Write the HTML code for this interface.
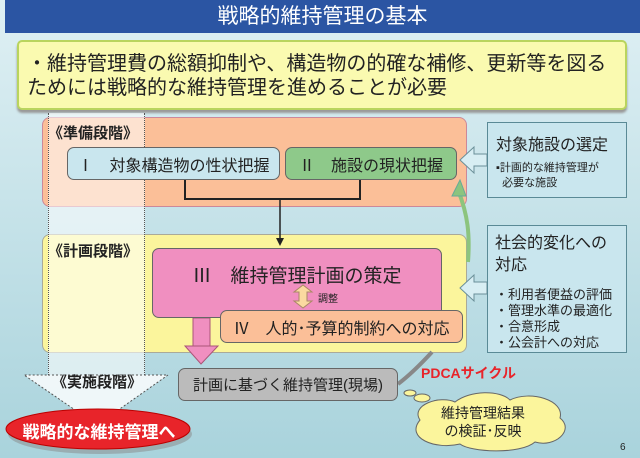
<!DOCTYPE html><html><head><meta charset="utf-8"><style>
body{margin:0}
#c{position:relative;width:640px;height:458px;overflow:hidden;background:linear-gradient(#dff0f4,#a9d3dc);font-family:"Liberation Sans","Noto Sans CJK JP",sans-serif;color:#222}
.a{position:absolute;box-sizing:border-box}
.b{border:1.5px solid #666;border-radius:7px;display:flex;align-items:center;justify-content:center}
</style></head><body><div id="c">
<div class="a" style="left:5px;top:0;width:635px;height:33px;background:#2b55a3;color:#fff;font-size:21px;text-align:center;line-height:34px">戦略的維持管理の基本</div>
<div class="a" style="left:17px;top:40px;width:610px;height:70px;background:#fafab0;border:2px solid #b9d45e;border-radius:5px;box-shadow:0 3px 2px #999;font-size:20px;line-height:24px;padding:10px 0 0 8px">・維持管理費の総額抑制や、構造物の的確な補修、更新等を図る<br>ためには戦略的な維持管理を進めることが必要</div>
<div class="a" style="left:42px;top:117px;width:425px;height:90px;background:#fbbf98;border:1px solid #c89;border-radius:8px"></div>
<div class="a" style="left:42px;top:234px;width:425px;height:119px;background:#fbf59c;border:1px solid #aa9;border-radius:8px"></div>
<div class="a" style="left:48px;top:113px;width:97px;height:262px;background:rgba(255,255,255,.55);border-left:1px dotted #555;border-right:1px dotted #555"></div>
<svg class="a" style="left:0;top:0" width="640" height="458">
<polygon points="48,375 145,375 145,375 168,375 97,425 24,375" fill="rgba(255,255,255,.8)" stroke="#555" stroke-dasharray="2,2"/>
<polyline points="185,180 185,199 360,199 360,180" fill="none" stroke="#222" stroke-width="2"/>
<line x1="280" y1="199" x2="280" y2="240" stroke="#222" stroke-width="1.5"/><polygon points="276,238 284,238 280,246" fill="#222"/>
<rect x="193" y="318" width="17" height="30" fill="#f08fc0" stroke="#a57"/><polygon points="185,346 218,346 201,364" fill="#f08fc0" stroke="#a57"/>
<path d="M468,262 C470,235 468,215 458,190" fill="none" stroke="#8cc47e" stroke-width="4"/><polygon points="452,196 460,180 466,196" fill="#8cc47e" stroke="#6a9"/>
<polygon points="460,160 474,147 474,154 487,154 487,166 474,166 474,173" fill="#d8eef3" stroke="#6a8f98"/>
<polygon points="460,288 474,275 474,282 487,282 487,294 474,294 474,301" fill="#d8eef3" stroke="#6a8f98"/>
<path d="M398,384 C410,375 420,365 432,352" fill="none" stroke="#888" stroke-width="4"/>
<g fill="#fbf59c" stroke="#666"><ellipse cx="410" cy="393" rx="6" ry="3"/><ellipse cx="422" cy="398" rx="8" ry="4"/><ellipse cx="440" cy="405" rx="10" ry="5"/>
<path d="M420,420 C410,405 440,395 455,402 C470,390 500,390 510,400 C530,390 565,400 560,418 C575,430 555,448 535,442 C520,455 470,452 460,444 C435,450 405,438 420,420Z"/></g>
<ellipse cx="100" cy="434" rx="92" ry="20" fill="#888" opacity=".5"/>
<ellipse cx="98" cy="429" rx="92" ry="20" fill="#e8242a" stroke="#b00"/>
</svg>
<div class="a" style="left:48px;top:122px;font-size:15px;font-weight:bold">《準備段階》</div>
<div class="a" style="left:48px;top:240px;font-size:15px;font-weight:bold">《計画段階》</div>
<div class="a" style="left:52px;top:371px;font-size:15px;font-weight:bold">《実施段階》</div>
<div class="a b" style="left:67px;top:147px;width:213px;height:33px;background:#c9e6ee;font-size:16px">Ⅰ　対象構造物の性状把握</div>
<div class="a b" style="left:285px;top:147px;width:172px;height:33px;background:#8ec98a;font-size:16px">Ⅱ　施設の現状把握</div>
<div class="a b" style="left:152px;top:248px;width:290px;height:70px;background:#f08fc0;font-size:19px;align-items:flex-start;padding-top:12px">Ⅲ　維持管理計画の策定</div>
<svg class="a" style="left:290px;top:284px" width="30" height="26"><polygon points="13,1 22,8 17,8 17,17 22,17 13,24 4,17 9,17 9,8 4,8" fill="#fbd9a0" stroke="#a86"/></svg>
<div class="a" style="left:318px;top:290px;font-size:10px">調整</div>
<div class="a b" style="left:220px;top:310px;width:243px;height:33px;background:#fbbf98;font-size:16px">Ⅳ　人的･予算的制約への対応</div>
<div class="a b" style="left:178px;top:368px;width:220px;height:33px;background:#bbb;font-size:15px">計画に基づく維持管理(現場)</div>
<div class="a" style="left:421px;top:363px;color:#e8242a;font-size:14px;font-weight:bold">PDCAサイクル</div>
<div class="a" style="left:428px;top:404px;width:110px;text-align:center;font-size:14px;line-height:18px">維持管理結果<br>の検証･反映</div>
<div class="a" style="left:8px;top:418px;width:182px;text-align:center;color:#fff;font-size:17px;font-weight:bold">戦略的な維持管理へ</div>
<div class="a" style="left:487px;top:122px;width:140px;height:76px;background:#c9e6ee;border:1px solid #5a8a96;padding:8px 0 0 8px"><div style="font-size:16px">対象施設の選定</div><div style="font-size:11px;line-height:15px;margin-top:6px">▪計画的な維持管理が<br>&nbsp;&nbsp;必要な施設</div></div>
<div class="a" style="left:487px;top:225px;width:140px;height:128px;background:#c9e6ee;border:1px solid #5a8a96;padding:7px 0 0 7px"><div style="font-size:16px;line-height:22px">社会的変化への<br>対応</div><div style="font-size:13px;line-height:16px;margin-top:10px">・利用者便益の評価<br>・管理水準の最適化<br>・合意形成<br>・公会計への対応</div></div>
<div class="a" style="left:620px;top:442px;font-size:10px">6</div>
</div></body></html>
